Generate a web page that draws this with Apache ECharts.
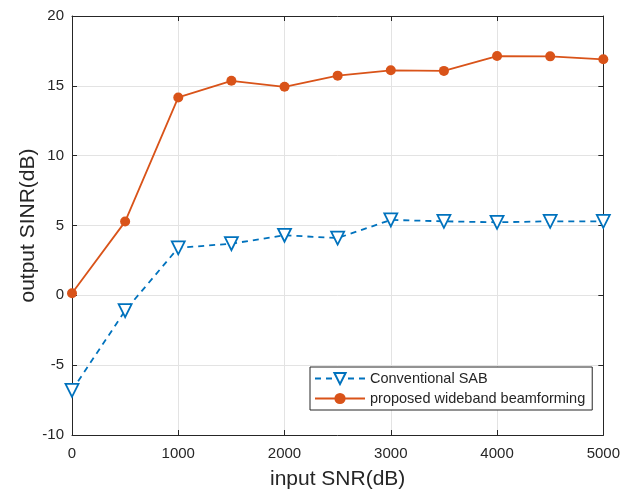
<!DOCTYPE html>
<html><head><meta charset="utf-8">
<script src="https://cdn.jsdelivr.net/npm/echarts@6/dist/echarts.min.js"></script>
<style>html,body{margin:0;padding:0;background:#fff}#c{width:623px;height:495px}</style>
</head><body><div id="c"></div>
<script>
const xValues = [0, 500, 1000, 1500, 2000, 2500, 3000, 3500, 4000, 4500, 5000];
const conventionalSAB = [-6.8, -1.1, 3.4, 3.7, 4.3, 4.1, 5.4, 5.3, 5.23, 5.3, 5.3];
const proposedWideband = [0.15, 5.28, 14.17, 15.36, 14.93, 15.73, 16.11, 16.07, 17.13, 17.11, 16.9];
const seriesNames = ['Conventional SAB', 'proposed wideband beamforming'];

const font = 'Liberation Sans, Arial, Helvetica, sans-serif';
const axisColor = '#262626';
const chart = echarts.init(document.getElementById('c'), null, {renderer: 'canvas'});
const pairs = a => xValues.map((x, i) => [x, a[i]]);
const baseX = {
  type: 'value', min: 0, max: 5000, interval: 1000,
  axisLine: {show: true, onZero: false, lineStyle: {color: axisColor, width: 1}},
  axisTick: {show: true, inside: true, length: 5, lineStyle: {color: axisColor}},
};
const baseY = {
  type: 'value', min: -10, max: 20, interval: 5,
  axisLine: {show: true, onZero: false, lineStyle: {color: axisColor, width: 1}},
  axisTick: {show: true, inside: true, length: 5, lineStyle: {color: axisColor}},
};
chart.setOption({
  animation: false,
  backgroundColor: '#fff',
  grid: {left: 72, top: 16, right: 16, bottom: 57, containLabel: false},
  xAxis: [
    Object.assign({}, baseX, {
      position: 'bottom',
      name: 'input SNR(dB)', nameLocation: 'middle', nameGap: 34, nameMoveOverlap: false,
      nameTextStyle: {fontFamily: font, fontSize: 21, color: axisColor},
      axisLabel: {fontFamily: font, fontSize: 15, color: axisColor, margin: 11, formatter: v => String(v)},
      splitLine: {show: true, lineStyle: {color: '#e3e3e3', width: 1}}
    }),
    Object.assign({}, baseX, {
      position: 'top', axisLabel: {show: false}, splitLine: {show: false}
    })
  ],
  yAxis: [
    Object.assign({}, baseY, {
      position: 'left',
      name: 'output SINR(dB)', nameLocation: 'middle', nameGap: 33, nameRotate: 90, nameMoveOverlap: false,
      nameTextStyle: {fontFamily: font, fontSize: 21, color: axisColor},
      axisLabel: {fontFamily: font, fontSize: 15, color: axisColor, margin: 8, formatter: v => String(v)},
      splitLine: {show: true, lineStyle: {color: '#e3e3e3', width: 1}}
    }),
    Object.assign({}, baseY, {
      position: 'right', axisLabel: {show: false}, splitLine: {show: false}
    })
  ],
  legend: {
    orient: 'vertical', left: 310, top: 367,
    backgroundColor: '#fff',
    borderColor: axisColor, borderWidth: 1, borderRadius: 0,
    padding: [4, 7, 4, 4], itemGap: 5, itemWidth: 50, itemHeight: 14,
    textStyle: {fontFamily: font, fontSize: 14.5, color: axisColor},
    data: seriesNames
  },
  series: [
    {
      name: seriesNames[0], type: 'line', data: pairs(conventionalSAB),
      symbol: 'triangle', symbolRotate: 180, symbolSize: 13,
      lineStyle: {color: '#0072BD', width: 1.8, type: [6, 5]},
      itemStyle: {color: '#ffffff', borderColor: '#0072BD', borderWidth: 1.8},
      z: 3
    },
    {
      name: seriesNames[1], type: 'line', data: pairs(proposedWideband),
      symbol: 'circle', symbolSize: 10,
      lineStyle: {color: '#D95319', width: 1.8},
      itemStyle: {color: '#D95319', borderColor: '#D95319', borderWidth: 0},
      z: 4
    }
  ]
});
</script></body></html>
